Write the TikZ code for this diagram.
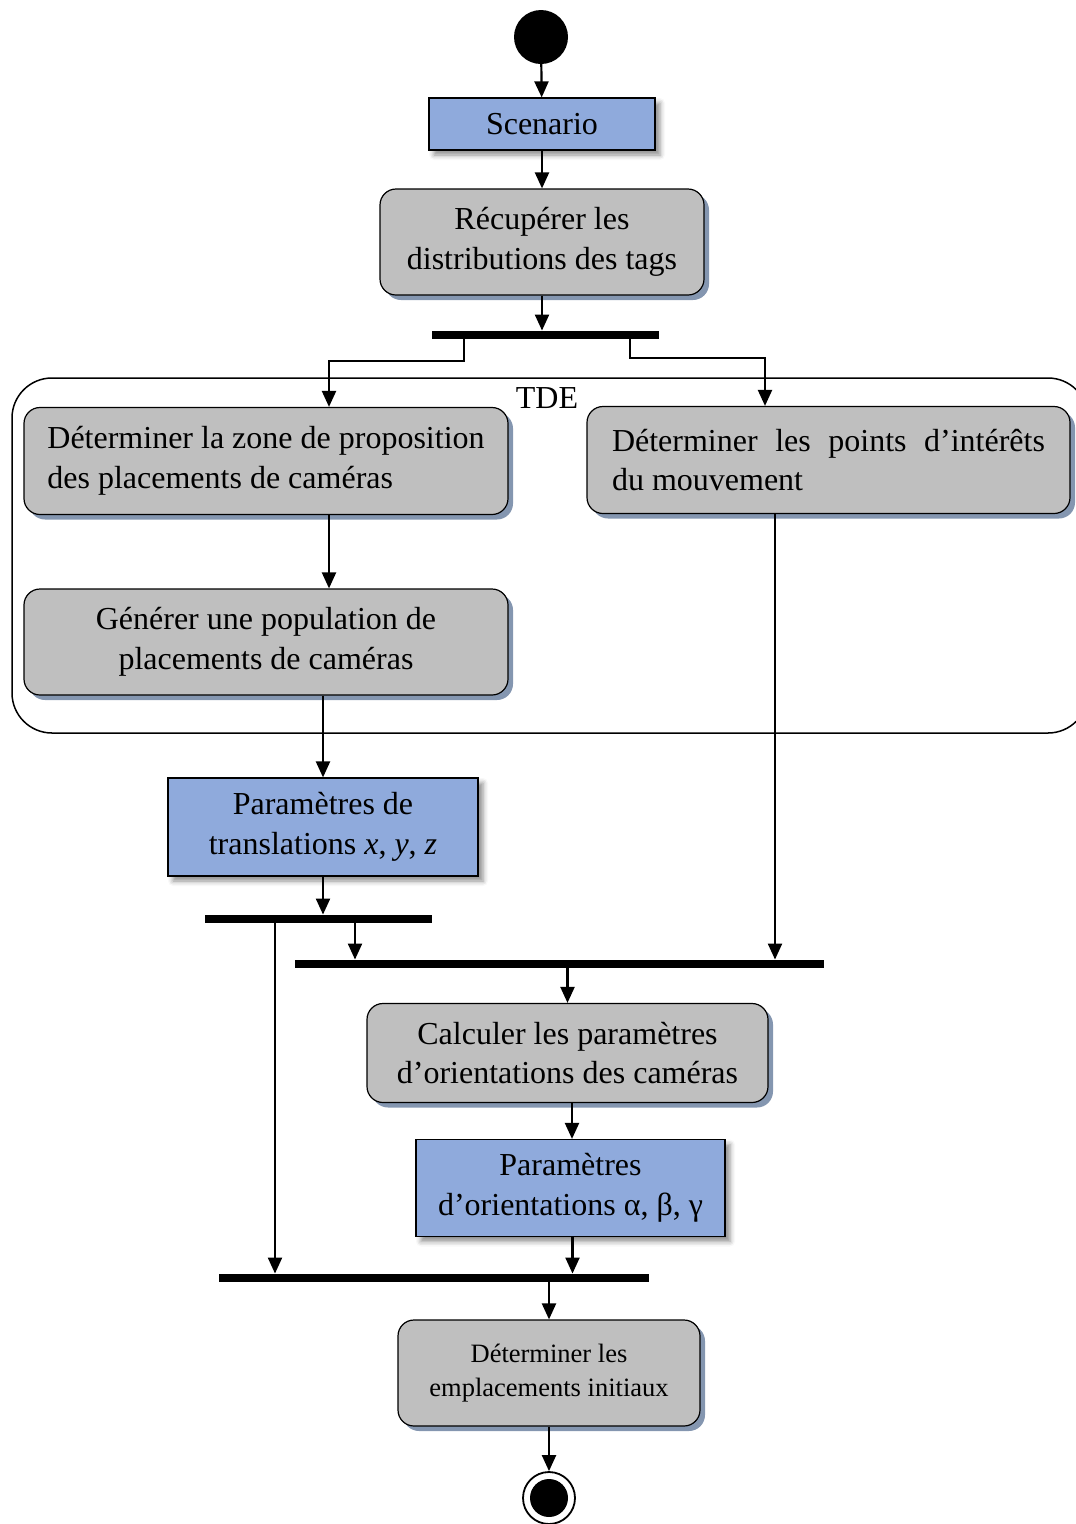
\documentclass[tikz,border=0pt]{standalone}
\usepackage{fontspec}
\setmainfont{Liberation Serif}
\usetikzlibrary{arrows.meta,shadows,shadows.blur,calc}
\definecolor{parblue}{RGB}{143,170,220}
\definecolor{actgray}{RGB}{191,191,191}
\definecolor{actshadow}{RGB}{132,150,176}
\begin{document}
\begin{tikzpicture}[x=1pt,y=-1pt,
  flow/.style={-{Triangle[length=16pt,width=14pt]}, line width=2.2pt},
  bigtext/.style={font=\fontsize{32}{39.5}\selectfont},
  action/.style={draw, line width=1.2pt, rounded corners=16pt, fill=actgray,
    drop shadow={shadow xshift=5pt, shadow yshift=-5pt, fill=actshadow, opacity=1},
    inner sep=0pt, align=center, bigtext},
  param/.style={draw, line width=1.2pt, fill=parblue,
    blur shadow={shadow xshift=5pt, shadow yshift=-5pt, shadow blur radius=5pt, shadow opacity=45},
    inner sep=0pt, align=center, bigtext},
  syncbar/.style={fill=black, inner sep=0pt, minimum height=8.5pt},
]
\clip (0,0) rectangle (1076,1524);

% activity region
\draw[line width=1.5pt, rounded corners=40pt] (12,378) rectangle (1088,733);
\node[bigtext] (tde) at (547,398) {TDE};

% initial and final states
\node[circle, fill=black, minimum size=54pt, inner sep=0pt] (start) at (541,37) {};
\node[circle, draw, line width=1.8pt, minimum size=52pt, inner sep=0pt] (end) at (549,1498) {};
\node[circle, fill=black, minimum size=38pt, inner sep=0pt] (endcore) at (end.center) {};

% actions and parameters
\node[param, minimum width=226pt, minimum height=52pt] (scen) at (542,124) {Scenario};
\node[action, minimum width=324pt, minimum height=106pt] (recup) at (542,242)
  {Récupérer les\\distributions des tags};
\node[action, minimum width=484pt, minimum height=107pt, align=left] (zone) at (266,461)
  {Déterminer la zone de proposition\\des placements de caméras};
\node[action, minimum width=483pt, minimum height=107pt, align=left] (points) at (828.5,460)
  {\hbox to 433pt{Déterminer\hfill les\hfill points\hfill d’intérêts}\\du mouvement};
\node[action, minimum width=484pt, minimum height=106pt] (gen) at (266,642)
  {Générer une population de\\placements de caméras};
\node[param, minimum width=310pt, minimum height=98pt] (trans) at (323,827)
  {Paramètres de\\translations \textit{x}, \textit{y}, \textit{z}};
\node[action, minimum width=401pt, minimum height=99pt] (calc) at (567.5,1053)
  {Calculer les paramètres\\d’orientations des caméras};
\node[param, minimum width=309pt, minimum height=97pt] (orient) at (570.5,1188)
  {Paramètres\\d’orientations α, β, γ};
\node[action, minimum width=302pt, minimum height=106pt, font=\fontsize{26.5}{34}\selectfont] (empl) at (549,1373)
  {Déterminer les\\emplacements initiaux};

% synchronisation bars
\node[syncbar, minimum width=227pt] (fork1) at (545.5,335) {};
\node[syncbar, minimum width=227pt] (bar2) at (318.5,919) {};
\node[syncbar, minimum width=529pt] (bar3) at (559.5,964) {};
\node[syncbar, minimum width=430pt] (bar4) at (434,1278) {};

% bend points of the fork
\coordinate (f1l) at (464,361);
\coordinate (f1r) at (630,358);
\coordinate (zx) at (329,0);
\coordinate (px) at (765,0);

% connectors
\draw[flow] (start) -- (scen);
\draw[flow] (scen) -- (recup);
\draw[flow] (recup) -- (recup |- fork1.north);
\draw[flow] (fork1.south -| f1l) -- (f1l) -| (zone.north -| zx);
\draw[flow] (fork1.south -| f1r) -- (f1r) -| (points.north -| px);
\draw[flow] ([xshift=63pt]zone.south) -- ([xshift=63pt]gen.north);
\draw[flow] (gen.south -| trans.north) -- (trans.north);
\draw[flow] (trans.south) -- (trans.south |- bar2.north);
\draw[flow] ([xshift=36.5pt]bar2.south) -- ([xshift=36.5pt]bar2.south |- bar3.north);
\draw[flow] ([xshift=-43.5pt]bar2.south) -- ([xshift=-43.5pt]bar2.south |- bar4.north);
\draw[flow] ([xshift=-53.5pt]points.south) -- ([xshift=-53.5pt]points.south |- bar3.north);
\draw[flow] (calc.north |- bar3.south) -- (calc.north);
\draw[flow] ([xshift=4.5pt]calc.south) -- ([xshift=1.5pt]orient.north);
\draw[flow] ([xshift=2pt]orient.south) -- ([xshift=2pt]orient.south |- bar4.north);
\draw[flow] (empl.north |- bar4.south) -- (empl.north);
\draw[flow] (empl.south) -- (end.north);
\end{tikzpicture}
\end{document}
